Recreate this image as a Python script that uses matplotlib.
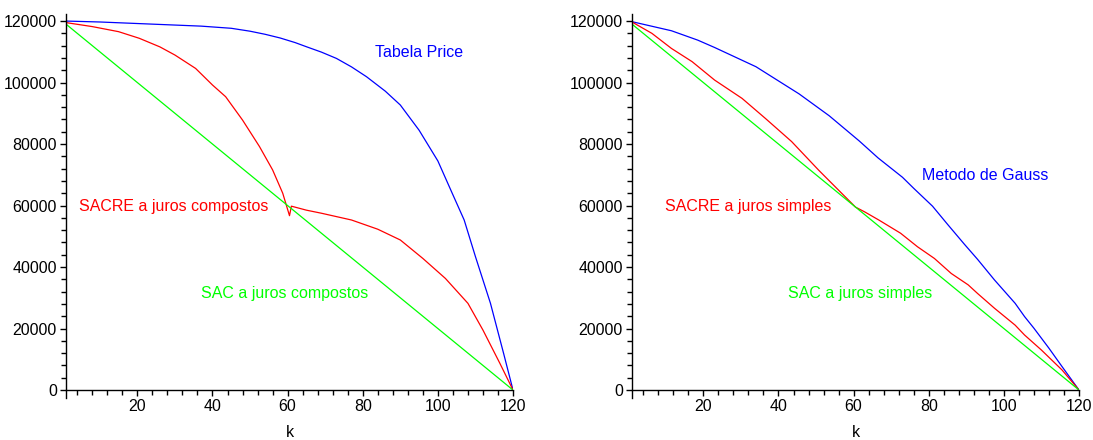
import matplotlib.pyplot as plt
from matplotlib.ticker import MultipleLocator

plt.rcParams['font.family'] = ['Liberation Sans', 'DejaVu Sans']

# Painel esquerdo: juros compostos
price_k = [1, 10, 19, 28, 37, 45, 50, 54, 58, 62, 65, 69, 73, 77, 81, 86, 90, 95, 100, 104,
           107, 110, 114, 117.5, 120]
price_v = [120000, 119700, 119250, 118800, 118350, 117650, 116700, 115700, 114500, 113000, 111650,
           109900, 107850, 105100, 101900, 97200, 92700, 84500, 74500, 63500, 55300, 43400, 28200,
           11900, 0]

sacre_c_k = [1, 8, 15, 20.5, 26, 30, 35.5, 40, 43.5, 48, 52.5, 56, 58.7, 60.5, 61, 65, 69, 77, 84,
             90, 96, 102, 108, 112, 116.5, 120]
sacre_c_v = [119500, 118200, 116550, 114400, 111600, 108950, 104600, 99200, 95400, 87800, 79200,
             71600, 64000, 56700, 59800, 58500, 57500, 55300, 52300, 48800, 42800, 36300, 28200,
             19500, 8700, 0]

sac_c_k = [1, 20, 40, 60, 80, 100, 120]
sac_c_v = [119000, 100000, 80000, 60000, 40000, 20000, 0]

# Painel direito: juros simples
gauss_k = [1, 11.5, 18.5, 23, 34, 45.5, 53.5, 61.5, 66.5, 73, 76, 81, 85, 89.5, 93, 97.5, 103,
           105.5, 108, 112, 115.5, 120]
gauss_v = [119800, 116850, 113800, 111400, 105150, 96300, 89200, 81000, 75500, 69200, 65600, 59800,
           53900, 47400, 42500, 35800, 28200, 23900, 20100, 13600, 7600, 0]

sacre_s_k = [1, 6.3, 11.5, 17, 23, 30.3, 36.5, 41, 43.5, 50.7, 56, 60.5, 63, 66.7, 72.5, 77, 81.5,
             86, 90.5, 93, 97.5, 103, 105.5, 110, 115.5, 120]
sacre_s_v = [119700, 116000, 111100, 106800, 100800, 94850, 88350, 83500, 80800, 71500, 65000,
             59500, 57900, 55300, 51000, 46600, 42800, 37900, 34200, 31400, 26600, 21100, 17900,
             13000, 6500, 0]

sac_s_k = [1, 20, 40, 60, 80, 100, 120]
sac_s_v = [119000, 100000, 80000, 60000, 40000, 20000, 0]

AZUL, VERMELHO, VERDE = '#0000ff', '#ff0000', '#00ff00'
FS = 11.5

fig = plt.figure(figsize=(10.93, 4.40), dpi=100)
ax1 = fig.add_axes([66 / 1093, 0.0961, 447 / 1093, 0.8721])
ax2 = fig.add_axes([632 / 1093, 0.0961, 447 / 1093, 0.8721])


def estilo(ax):
    ax.set_xlim(1, 120)
    ax.set_ylim(-2500, 122300)
    for s in ['top', 'right']:
        ax.spines[s].set_visible(False)
    ax.spines['bottom'].set_position(('data', 0))
    ax.spines['left'].set_linewidth(1.0)
    ax.spines['bottom'].set_linewidth(1.0)
    ax.xaxis.set_minor_locator(MultipleLocator(4))
    ax.yaxis.set_minor_locator(MultipleLocator(4000))
    ax.set_yticks(range(0, 120001, 20000))
    ax.set_xticks(range(20, 121, 20))
    ax.tick_params(which='major', length=4.5, width=1.0, labelsize=FS, pad=2)
    ax.tick_params(which='minor', length=3.5, width=1.0)
    ax.set_xlabel('k', fontsize=FS)
    ax.xaxis.set_label_coords(0.5, -0.07)


ax1.plot(price_k, price_v, color=AZUL, lw=0.9)
ax1.plot(sacre_c_k, sacre_c_v, color=VERMELHO, lw=0.9)
ax1.plot(sac_c_k, sac_c_v, color=VERDE, lw=0.9)
estilo(ax1)
ax1.text(95, 109900, 'Tabela Price', color=AZUL, fontsize=FS, ha='center', va='center')
ax1.text(29.7, 59600, 'SACRE a juros compostos', color=VERMELHO, fontsize=FS, ha='center', va='center')
ax1.text(59.3, 31500, 'SAC a juros compostos', color=VERDE, fontsize=FS, ha='center', va='center')

ax2.plot(gauss_k, gauss_v, color=AZUL, lw=0.9)
ax2.plot(sacre_s_k, sacre_s_v, color=VERMELHO, lw=0.9)
ax2.plot(sac_s_k, sac_s_v, color=VERDE, lw=0.9)
estilo(ax2)
ax2.text(95, 69700, 'Metodo de Gauss', color=AZUL, fontsize=FS, ha='center', va='center')
ax2.text(31.8, 59600, 'SACRE a juros simples', color=VERMELHO, fontsize=FS, ha='center', va='center')
ax2.text(61.7, 31500, 'SAC a juros simples', color=VERDE, fontsize=FS, ha='center', va='center')

fig.savefig('out.png', dpi=100)
